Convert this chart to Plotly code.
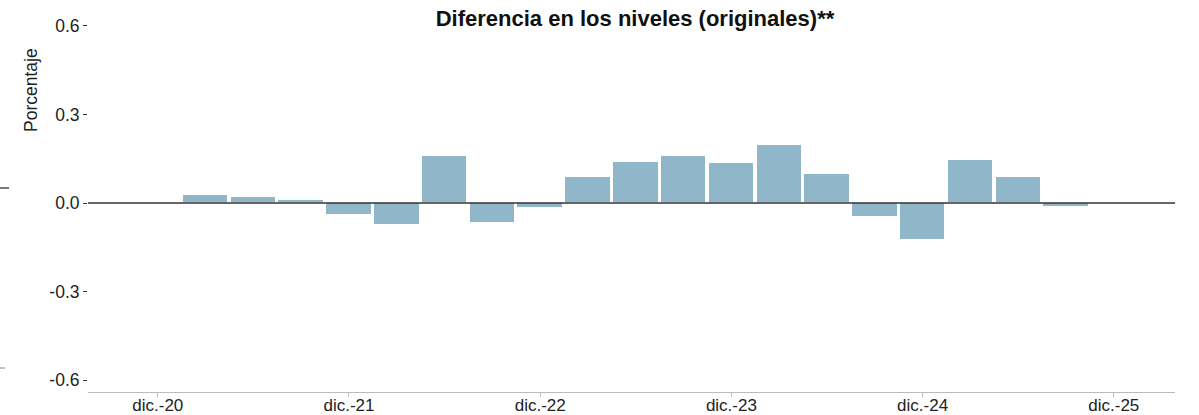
import plotly.graph_objects as go

categories = ["dic.-20", "mar.-21", "jun.-21", "sep.-21", "dic.-21", "mar.-22", "jun.-22",
              "sep.-22", "dic.-22", "mar.-23", "jun.-23", "sep.-23", "dic.-23", "mar.-24",
              "jun.-24", "sep.-24", "dic.-24", "mar.-25", "jun.-25", "sep.-25", "dic.-25"]
values = [-0.002, 0.027, 0.019, 0.009, -0.040, -0.075, 0.159,
          -0.067, -0.016, 0.089, 0.138, 0.159, 0.137, 0.197,
          0.097, -0.047, -0.125, 0.145, 0.087, -0.012, None]
x_ticks = ["dic.-20", "dic.-21", "dic.-22", "dic.-23", "dic.-24", "dic.-25"]
y_ticks = [-0.6, -0.3, 0.0, 0.3, 0.6]
y_ticktext = ["-0.6", "-0.3", "0.0", "0.3", "0.6"]

W, H = 1199, 415
ML, MR, MT, MB = 88, 24, 20, 23

fig = go.Figure()
fig.add_trace(go.Bar(
    x=categories, y=values, width=0.95,
    marker=dict(color="#8FB7C9", line=dict(color="#FFFFFF", width=1)),
))

fig.add_shape(type="line", xref="paper", yref="y", x0=0, x1=1, y0=0, y1=0,
              line=dict(color="#333333", width=1.6))

# small left-edge marks
px = lambda p: (p - ML) / (W - ML - MR)
py = lambda p: 1 - (p - MT) / (H - MT - MB)
fig.add_shape(type="line", xref="paper", yref="paper", x0=px(0), x1=px(9),
              y0=py(188), y1=py(188), line=dict(color="#222222", width=1.2))
fig.add_shape(type="line", xref="paper", yref="paper", x0=px(0), x1=px(5),
              y0=py(368), y1=py(368), line=dict(color="#888888", width=1))

fig.add_annotation(text="Porcentaje", xref="paper", yref="paper",
                   x=px(31), y=py(90), textangle=-90, showarrow=False,
                   font=dict(size=17.5, color="#222222"), xanchor="center", yanchor="middle")

fig.update_layout(
    width=W, height=H,
    margin=dict(l=ML, r=MR, t=MT, b=MB),
    plot_bgcolor="white", paper_bgcolor="white",
    font=dict(family="Liberation Sans, Arial, sans-serif", size=17.5, color="#222222"),
    title=dict(text="<b>Diferencia en los niveles (originales)**</b>",
               x=635 / W, xanchor="center", y=1 - 18 / H, yanchor="middle",
               font=dict(size=22, color="#111111")),
    showlegend=False,
    bargap=0,
)
fig.update_xaxes(
    type="category", categoryorder="array", categoryarray=categories,
    range=[-1.46, 21.28],
    tickvals=x_ticks, ticktext=x_ticks,
    ticks="outside", ticklen=4, tickcolor="#BBBBBB",
    ticklabelstandoff=-7,
    showline=True, linecolor="#BBBBBB", linewidth=1.2,
    showgrid=False, zeroline=False, automargin=False,
    tickfont=dict(size=17, color="#222222"),
)
fig.update_yaxes(
    range=[-0.64, 0.62],
    tickvals=y_ticks, ticktext=y_ticktext,
    ticks="outside", ticklen=4, tickcolor="#333333",
    showline=False, showgrid=False, zeroline=False, automargin=False,
    tickfont=dict(size=17.5, color="#222222"),
)

fig.write_html("out.html", config={"displayModeBar": False},
               post_script="document.body.style.margin='0';document.body.style.overflow='hidden';")
